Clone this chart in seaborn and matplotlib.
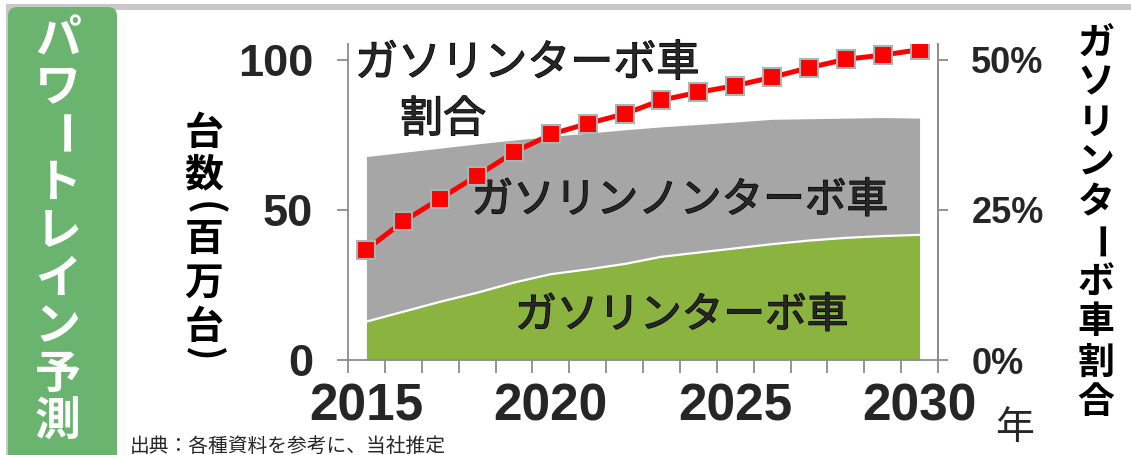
import matplotlib
matplotlib.use("Agg")
import matplotlib.pyplot as plt
import matplotlib.patheffects as pe
import seaborn as sns
import pandas as pd
from matplotlib.patches import FancyBboxPatch, Rectangle
from matplotlib.ticker import FixedLocator

# data
years = list(range(2015, 2031))
turbo_units = [12.8, 16.1, 19.4, 22.4, 25.8, 28.6, 30.2, 32.0, 34.4, 35.8, 37.2, 38.6, 39.8, 40.7, 41.3, 41.7]
nonturbo_units = [55.0, 53.1, 51.2, 49.6, 47.5, 45.9, 45.4, 44.7, 43.3, 42.7, 42.1, 41.6, 40.6, 39.9, 39.5, 38.9]
turbo_share = [18.4, 23.1, 26.9, 30.7, 34.6, 37.6, 39.4, 41.0, 43.3, 44.6, 45.7, 47.1, 48.7, 50.1, 50.8, 51.7]

year_ticks = [2015, 2020, 2025, 2030]
unit_ticks = [0, 50, 100]
share_ticks = [0, 25, 50]

green = "#8bb33f"
gray = "#a6a6a6"
axis_gray = "#8c8c8c"
W, H = 1131, 455

sns.set_style("white")
plt.rcParams['font.family'] = ['Noto Sans CJK JP', 'DejaVu Sans']
num_font = "Liberation Sans"

fig = plt.figure(figsize=(W / 100, H / 100), dpi=100)

# frame decoration on the left / top
fig.add_artist(Rectangle((0.06, (H - 10) / 100), (W - 6) / 100, 0.06, transform=fig.dpi_scale_trans,
                         color="#c8c8c8", lw=0))
fig.add_artist(Rectangle((0.06, -0.1), 0.025, (H - 4) / 100 + 0.1, transform=fig.dpi_scale_trans,
                         color="#c8c8c8", lw=0))
fig.add_artist(FancyBboxPatch((0.08, -0.3), 1.09, (H - 7) / 100 + 0.3, transform=fig.dpi_scale_trans,
                              boxstyle="round,pad=0,rounding_size=0.09", color="#6ab470", lw=0))

ax = fig.add_axes([348 / W, 95 / H, 590 / W, 316 / H])
ax.stackplot(years, turbo_units, nonturbo_units, colors=[green, gray], lw=0)
ax.plot(years, turbo_units, color="white", lw=1.6)
ax.set_xlim(2014.5, 2030.5)
ax.set_ylim(0, 105.3)

ax2 = ax.twinx()
df = pd.DataFrame({"year": years, "share": turbo_share})
sns.lineplot(data=df, x="year", y="share", ax=ax2, color="#ff0000", marker="s", markersize=12.5,
             markeredgecolor="#a3b7b7", markeredgewidth=1.5, linewidth=3.6)
ax2.set_ylim(0, 105.3 / 2)
ax2.set_xlabel("")
ax2.set_ylabel("")

for a in (ax, ax2):
    for s in a.spines.values():
        s.set_color(axis_gray)
        s.set_linewidth(1.3)
    a.spines["top"].set_visible(False)
ax2.spines["left"].set_visible(False)
ax2.spines["bottom"].set_visible(False)

ax.set_xticks(year_ticks)
ax.set_xticklabels([str(y) for y in year_ticks], fontfamily=num_font, fontweight="bold", fontsize=37)
ax.xaxis.set_minor_locator(FixedLocator([2014.5 + i for i in range(17)]))
ax.tick_params(axis="x", which="major", bottom=True, length=0, pad=16)
ax.tick_params(axis="x", which="minor", bottom=True, length=9.5, width=1.3, color=axis_gray, direction="out")

ax.set_yticks(unit_ticks)
ax.set_yticklabels([str(v) for v in unit_ticks], fontfamily=num_font, fontweight="bold", fontsize=32.5)
ax.tick_params(axis="y", left=True, length=8, width=1.3, color=axis_gray, pad=17)

ax2.set_yticks(share_ticks)
ax2.set_yticklabels([f"{v}%" for v in share_ticks], fontfamily=num_font, fontweight="bold", fontsize=26)
ax2.tick_params(axis="y", right=True, length=7, width=1.3, color=axis_gray, pad=17)

# labels inside the plot (regular weight, thickened a little)
thick = [pe.withStroke(linewidth=0.9, foreground="black")]
ax.text(2014.69, 98.7, "ガソリンターボ車", fontsize=31, ha="left", va="center", path_effects=thick)
ax.text(2015.91, 80, "割合", fontsize=31, ha="left", va="center", path_effects=thick)
ax.text(2017.85, 53, "ガソリンノンターボ車", fontsize=30, ha="left", va="center", path_effects=thick)
ax.text(2019.03, 14.7, "ガソリンターボ車", fontsize=30, ha="left", va="center", path_effects=thick)


def vtext(chars, x_px, y_centers, size, color="black", weight="bold"):
    for ch, yc in zip(chars, y_centers):
        rot = -90 if ch in "ー()" else 0
        fig.text(x_px / W, 1 - yc / H, ch, ha="center", va="center", rotation=rot,
                 fontsize=size, color=color, fontweight=weight)


vtext("パワートレイン予測", 58, [40 + 47.9 * i for i in range(9)], 33, color="white")
vtext("台数(百万台)", 204, [133, 175, 208, 240, 283, 327, 354], 28)
vtext("ガソリンターボ車割合", 1096, [43 + 40 * i for i in range(10)], 26.5)

fig.text(1015 / W, 1 - 428 / H, "年", fontsize=28, ha="center", va="center")
fig.text(130 / W, 1 - 436 / H, "出典：各種資料を参考に、当社推定", fontsize=14.2, ha="left", va="top")

fig.savefig("out.png", dpi=100)
